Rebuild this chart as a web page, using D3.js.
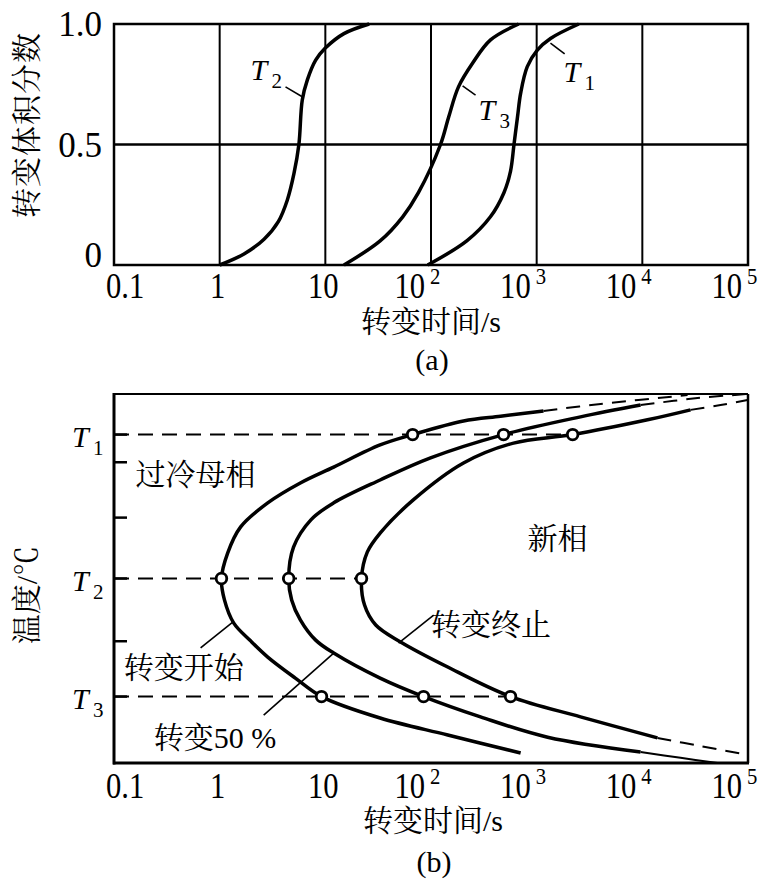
<!DOCTYPE html>
<html><head><meta charset="utf-8">
<script src="https://cdn.jsdelivr.net/npm/d3@7"></script>
<style>
body{margin:0;background:#fff}
svg{display:block}
text{font-family:"Liberation Serif","Noto Serif CJK SC","Noto Sans CJK SC",serif;fill:#000}
</style>
</head><body><svg id="chart" width="769" height="888"></svg>
<script>
// ---------- shared axis data ----------
const timeTicks = [0.1, 1, 10, 100, 1000, 10000, 100000];
const timeTickBase = ["0.1", "1", "10", "10", "10", "10", "10"];
const timeTickExp = ["", "", "", "2", "3", "4", "5"];
const gridTimes = [1, 10, 100, 1000, 10000];

// ---------- (a) transformed fraction vs time ----------
const fracTicks = [0, 0.5, 1];
const fracTickLabels = ["0", "0.5", "1.0"];
const curveT2 = [[1,0],[1.7,0.046],[2.63,0.107],[3.59,0.18],[4.37,0.27],[5.05,0.38],[5.62,0.5],[6.05,0.685],[6.76,0.768],[8.1,0.85],[10,0.9],[15,0.96],[26,1.0]];
const curveT3 = [[15,0],[33,0.1],[54,0.2],[76,0.3],[123,0.5],[147,0.614],[182,0.739],[248,0.838],[366,0.934],[676,1.0]];
const curveT1 = [[93,0],[218,0.1],[365,0.2],[490,0.3],[566,0.39],[610,0.5],[659,0.615],[705,0.712],[815,0.823],[1014,0.892],[1352,0.94],[2506,1.0]];
const curveNamesA = ["2", "3", "1"];
const labelPosA = [[1.96,0.776],[282,0.61],[1795,0.768]];
const leadersA = [[[4.2,0.739],[6.1,0.697]],[[199,0.743],[264,0.705]],[[1350,0.921],[1840,0.876]]];

// ---------- (b) TTT diagram ----------
const tempLevels = [89, 50, 18];
const tempNames = ["1", "2", "3"];
const tempMinorTicks = [81.5, 66.5, 33];
const startCurve = [[1160,95.4],[455,94.0],[203,92.7],[67,89],[33,86.2],[12,80.2],[5.8,75.9],[2.85,70.5],[1.58,64.0],[1.19,56.9],[1.04,50],[1.11,44.2],[1.36,37.9],[1.96,33.1],[2.85,28.7],[5.2,23.0],[9.2,18],[33,12.2],[144,7.6],[705,2.7]];
const startTail = [[1160,95.4],[4030,97.3],[26800,99.7]];
const halfCurve = [[9620,97.0],[2600,93.8],[486,89],[99,82.7],[33,76.7],[12,70.5],[7.3,65.9],[5.0,58.5],[4.5,50],[4.8,44.2],[5.8,38.8],[8.1,33.3],[12,29.8],[33,23.0],[85,18],[294,12.5],[1270,7.0],[9620,3.0]];
const halfTailTop = [[9620,97.0],[33300,98.9],[98900,100]];
const halfTailBottom = [[9620,3.0],[23000,1.4],[51400,0]];
const endCurve = [[28600,95.7],[11200,93.0],[2190,89],[604,86.7],[203,81.3],[68,71.3],[33,62.3],[25,57.2],[22,50],[23.5,42.8],[30,37.4],[51.5,32.8],[144,26.0],[566,18],[2600,12.5],[13900,6.8]];
const endTailTop = [[28600,95.7],[55000,97.0],[98900,98.4]];
const endTailBottom = [[13900,6.8],[35500,4.6],[98900,2.2]];
const circleTimes = [[67, 486, 2190], [1.04, 4.5, 22], [9.2, 85, 566]];
const regionLabels = [["过冷母相",0.16,75.3],["新相",820,58.0],["转变终止",100,34.7],["转变开始",0.124,23.0],["转变50 %",0.238,4.1]];
const leadersB = [[[0.66,31.2],[1.33,38.2]],[[2.61,13.0],[12.0,29.8]],[[49.3,32.5],[106,40.1]]];

const svg = d3.select("#chart");
svg.append("rect").attr("width",769).attr("height",888).attr("fill","#fff");

function ctext(g, x, y, str, size, anchor, sx) {
  return g.append("text").attr("transform", `translate(${x},${y}) scale(${sx},1)`)
    .attr("text-anchor", anchor).attr("font-size", size).text(str);
}

function drawTimeAxis(g, x, baseY) {
  timeTicks.forEach((t, i) => {
    const px = x(t);
    if (timeTickExp[i] === "") {
      let anchor = "middle", xx = px - 2;
      if (i === 0) { anchor = "start"; xx = px - 8; }
      ctext(g, xx, baseY, timeTickBase[i], 36, anchor, 0.85);
    } else {
      ctext(g, px - 6, baseY, timeTickBase[i], 36, "end", 0.85);
      ctext(g, px - 1, baseY - 14, timeTickExp[i], 23, "start", 0.9);
    }
  });
}

function italicT(g, xx, yy, sub) {
  g.append("text").attr("x", xx).attr("y", yy).attr("font-size", 30).attr("font-style", "italic").text("T");
  g.append("text").attr("x", xx + 21).attr("y", yy + 8).attr("font-size", 21).text(sub);
}

// ================= (a) =================
{
  const x = d3.scaleLog().domain([0.1, 1e5]).range([114, 748]);
  const y = d3.scaleLinear().domain([0, 1]).range([265, 24]);
  const g = svg.append("g");
  g.selectAll(".vg").data(gridTimes).join("line")
    .attr("x1", d => x(d)).attr("x2", d => x(d)).attr("y1", y(0)).attr("y2", y(1))
    .attr("stroke", "#000").attr("stroke-width", 2);
  g.append("line").attr("x1", x(0.1)).attr("x2", x(1e5)).attr("y1", y(0.5)).attr("y2", y(0.5))
    .attr("stroke", "#000").attr("stroke-width", 2.5);
  g.append("rect").attr("x", x(0.1)).attr("y", y(1)).attr("width", x(1e5) - x(0.1)).attr("height", y(0) - y(1))
    .attr("fill", "none").attr("stroke", "#000").attr("stroke-width", 2.5);
  const line = d3.line().x(d => x(d[0])).y(d => y(d[1])).curve(d3.curveCatmullRom.alpha(0.5));
  [curveT2, curveT3, curveT1].forEach(c => {
    g.append("path").attr("d", line(c)).attr("fill", "none").attr("stroke", "#000").attr("stroke-width", 3.5);
  });
  leadersA.forEach(l => {
    g.append("line").attr("x1", x(l[0][0])).attr("y1", y(l[0][1])).attr("x2", x(l[1][0])).attr("y2", y(l[1][1]))
      .attr("stroke", "#000").attr("stroke-width", 1.6);
  });
  labelPosA.forEach((p, i) => italicT(g, x(p[0]), y(p[1]) + 2, curveNamesA[i]));
  fracTicks.forEach((v, i) => {
    const off = [2, 12, 12][i];
    g.append("text").attr("x", 102).attr("y", y(v) + off).attr("text-anchor", "end").attr("font-size", 35).text(fracTickLabels[i]);
  });
  drawTimeAxis(g, x, 298);
  g.append("text").attr("x", 431).attr("y", 332).attr("text-anchor", "middle").attr("font-size", 30).text("转变时间/s");
  g.append("text").attr("x", 432).attr("y", 370).attr("text-anchor", "middle").attr("font-size", 30).text("(a)");
  g.append("text").attr("transform", "translate(37,125) rotate(-90)").attr("text-anchor", "middle")
    .attr("font-size", 30).attr("letter-spacing", 1).text("转变体积分数");
}

// ================= (b) =================
{
  const x = d3.scaleLog().domain([0.1, 1e5]).range([114, 748]);
  const y = d3.scaleLinear().domain([0, 100]).range([763, 394]);
  const g = svg.append("g");
  g.append("line").attr("x1", 114).attr("x2", 748).attr("y1", y(100)).attr("y2", y(100)).attr("stroke", "#000").attr("stroke-width", 2);
  g.append("line").attr("x1", 748).attr("x2", 748).attr("y1", y(100)).attr("y2", y(0)).attr("stroke", "#000").attr("stroke-width", 2.5);
  g.append("line").attr("x1", 114).attr("x2", 114).attr("y1", y(100) - 1).attr("y2", y(0) + 1.5).attr("stroke", "#000").attr("stroke-width", 3);
  g.append("line").attr("x1", 113).attr("x2", 749).attr("y1", y(0)).attr("y2", y(0)).attr("stroke", "#000").attr("stroke-width", 3);
  tempMinorTicks.concat(tempLevels).forEach(v => {
    g.append("line").attr("x1", 114).attr("x2", 127).attr("y1", y(v)).attr("y2", y(v)).attr("stroke", "#000").attr("stroke-width", 2.5);
  });
  tempLevels.forEach((v, i) => {
    const tEnd = d3.max(circleTimes[i]);
    g.append("line").attr("x1", x(0.1)).attr("x2", x(tEnd)).attr("y1", y(v)).attr("y2", y(v))
      .attr("stroke", "#000").attr("stroke-width", 2).attr("stroke-dasharray", "15,9");
  });
  const line = d3.line().x(d => x(d[0])).y(d => y(d[1])).curve(d3.curveCatmullRom.alpha(0.5));
  [startCurve, halfCurve, endCurve].forEach(c => {
    g.append("path").attr("d", line(c)).attr("fill", "none").attr("stroke", "#000").attr("stroke-width", 3.5);
  });
  [startTail, halfTailTop, endTailTop, endTailBottom].forEach(c => {
    g.append("path").attr("d", line(c)).attr("fill", "none").attr("stroke", "#000").attr("stroke-width", 2)
      .attr("stroke-dasharray", "14,9");
  });
  g.append("path").attr("d", line(halfTailBottom)).attr("fill", "none").attr("stroke", "#000").attr("stroke-width", 2);
  tempLevels.forEach((v, i) => {
    g.selectAll(null).data(circleTimes[i]).join("circle")
      .attr("cx", d => x(d)).attr("cy", y(v)).attr("r", 5.3)
      .attr("fill", "#fff").attr("stroke", "#000").attr("stroke-width", 2.8);
  });
  leadersB.forEach(l => {
    g.append("line").attr("x1", x(l[0][0])).attr("y1", y(l[0][1])).attr("x2", x(l[1][0])).attr("y2", y(l[1][1]))
      .attr("stroke", "#000").attr("stroke-width", 1.6);
  });
  regionLabels.forEach(r => {
    g.append("text").attr("x", x(r[1])).attr("y", y(r[2])).attr("font-size", 30).text(r[0]);
  });
  tempLevels.forEach((v, i) => italicT(g, 72, y(v) + 12, tempNames[i]));
  drawTimeAxis(g, x, 798);
  g.append("text").attr("x", 433).attr("y", 831).attr("text-anchor", "middle").attr("font-size", 30).text("转变时间/s");
  g.append("text").attr("x", 434).attr("y", 872).attr("text-anchor", "middle").attr("font-size", 30).text("(b)");
  g.append("text").attr("transform", "translate(37,595) rotate(-90)").attr("text-anchor", "middle")
    .attr("font-size", 30).text("温度/℃");
}
</script>
</body></html>
